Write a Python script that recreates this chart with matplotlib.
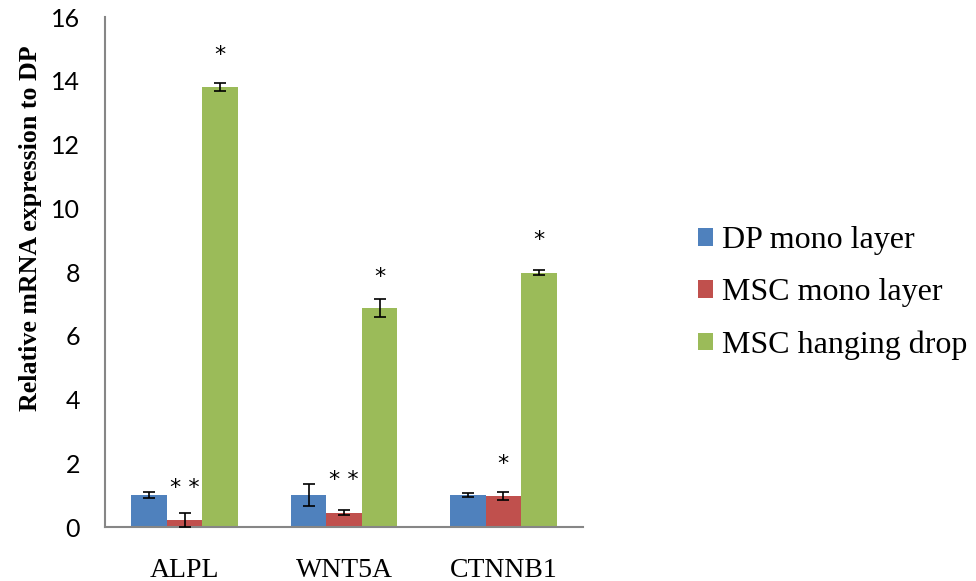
import matplotlib
matplotlib.use('Agg')
import matplotlib.pyplot as plt
import numpy as np

genes = ['ALPL', 'WNT5A', 'CTNNB1']
series = ['DP mono layer', 'MSC mono layer', 'MSC hanging drop']
colors = ['#4F81BD', '#C0504D', '#9BBB59']

dp_mono = [1.0, 1.0, 1.0]
msc_mono = [0.22, 0.45, 0.97]
msc_drop = [13.8, 6.86, 7.98]

dp_err = [0.1, 0.34, 0.07]
msc_mono_err = [0.22, 0.07, 0.12]
msc_drop_err = [0.13, 0.28, 0.08]

# significance marks: (gene index, series index, label, y position)
stars = [(0, 1, '* *', 1.22), (0, 2, '*', 14.8),
         (1, 1, '* *', 1.47), (1, 2, '*', 7.85),
         (2, 1, '*', 1.97), (2, 2, '*', 9.0)]

values = [dp_mono, msc_mono, msc_drop]
errors = [dp_err, msc_mono_err, msc_drop_err]

fig = plt.figure(figsize=(9.76, 5.81), dpi=100)
ax = fig.add_axes([0.1076, 0.0929, 0.4898, 0.8778])

x = np.arange(len(genes))
w = 0.223
handles = []
for i in range(3):
    pos = x + (i - 1) * w
    b = ax.bar(pos, values[i], width=w, color=colors[i], edgecolor='none',
               label=series[i], zorder=2)
    ax.errorbar(pos, values[i], yerr=errors[i], fmt='none', ecolor='black',
                elinewidth=1.2, capsize=4.3, capthick=1.2, zorder=3)
    handles.append(b)

for g, s, lab, yy in stars:
    ax.text(x[g] + (s - 1) * w, yy, lab, ha='center', va='center',
            fontsize=16, family='DejaVu Sans')

ax.set_xlim(-0.5, 2.5)
ax.set_ylim(0, 16)
ax.set_yticks(range(0, 17, 2))
ax.set_xticks(x)
ax.set_xticklabels(genes, family='Liberation Serif', fontsize=20)
for t in ax.get_yticklabels():
    t.set_family('Lato')
    t.set_fontsize(18)
ax.tick_params(axis='y', length=0, pad=18)
ax.tick_params(axis='x', length=0, pad=22)

for sp in ['top', 'right']:
    ax.spines[sp].set_visible(False)
for sp in ['left', 'bottom']:
    ax.spines[sp].set_color('#868686')
    ax.spines[sp].set_linewidth(1.5)

ax.set_ylabel('Relative mRNA expression to DP', family='Liberation Serif',
              fontweight='bold', fontsize=18.6)
ax.yaxis.set_label_coords(-0.132, 0.586)

ax.legend(handles=handles, loc='center left', bbox_to_anchor=(698 / 976, 0.4957),
          bbox_transform=fig.transFigure, frameon=False, borderpad=0,
          borderaxespad=0, handlelength=0.47, handleheight=0.47,
          handletextpad=0.28, labelspacing=0.72,
          prop={'family': 'Liberation Serif', 'size': 23})

fig.savefig('out.png', dpi=100)
